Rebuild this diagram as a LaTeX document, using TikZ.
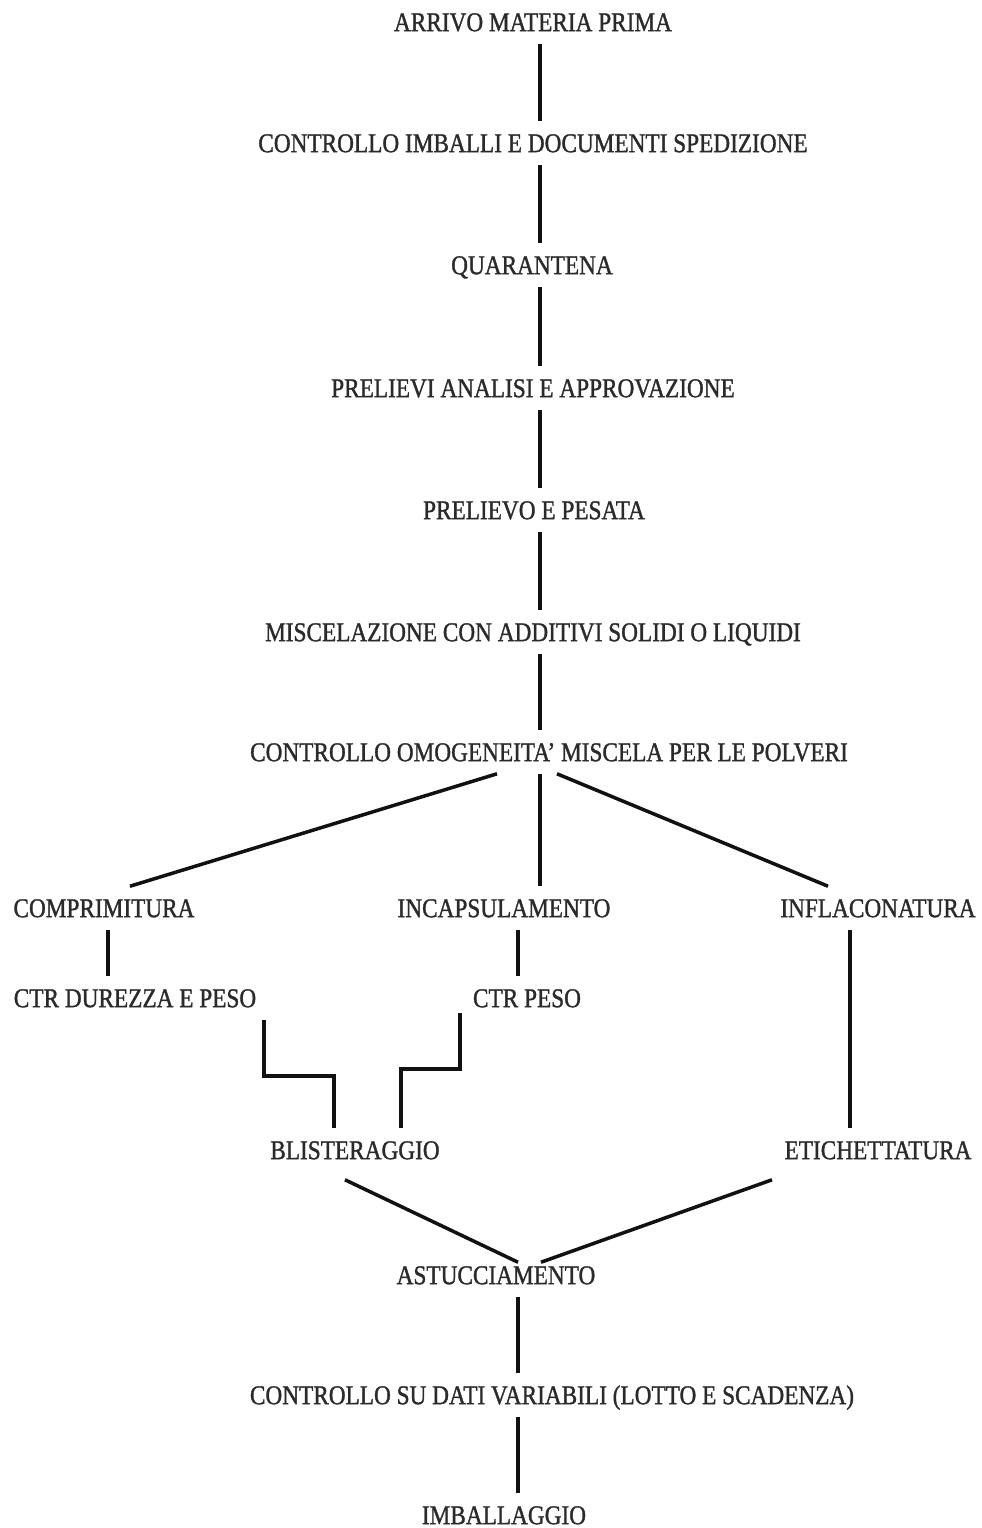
\documentclass[tikz,border=0pt]{standalone}
\usepackage{fontspec}
\setmainfont{Liberation Serif}[FakeStretch=0.86,FakeBold=1.2]
\usetikzlibrary{positioning,calc}
\definecolor{ink}{HTML}{2A2A2A}
\definecolor{wire}{HTML}{111111}

\begin{document}
\begin{tikzpicture}[x=0.02cm,y=-0.02cm,
  stage/.style={text=ink,inner xsep=2pt,inner ysep=7pt,text height=10.4pt,
                text depth=0pt,font=\fontsize{15.4}{18}\selectfont},
  link/.style={draw=wire,line width=2pt}
]
\useasboundingbox (0,0) rectangle (982,1528);

\node[stage] (arr)  at (533,22)   {ARRIVO MATERIA PRIMA};
\node[stage] (imb)  at (533,143)  {CONTROLLO IMBALLI E DOCUMENTI SPEDIZIONE};
\node[stage] (qua)  at (532,265)  {QUARANTENA};
\node[stage] (pre)  at (533,388)  {PRELIEVI ANALISI E APPROVAZIONE};
\node[stage] (pes)  at (534,510)  {PRELIEVO E PESATA};
\node[stage] (mis)  at (533,632)  {MISCELAZIONE CON ADDITIVI SOLIDI O LIQUIDI};
\node[stage] (omo)  at (549,752)  {CONTROLLO OMOGENEITA’ MISCELA PER LE POLVERI};

\node[stage] (com)  at (104,908)  {COMPRIMITURA};
\node[stage] (inc)  at (504,908)  {INCAPSULAMENTO};
\node[stage] (inf)  at (878,908)  {INFLACONATURA};
\node[stage] (dur)  at (135,998)  {CTR DUREZZA E PESO};
\node[stage] (ctr)  at (527,998)  {CTR PESO};
\node[stage] (bli)  at (355,1150) {BLISTERAGGIO};
\node[stage] (eti)  at (878,1150) {ETICHETTATURA};
\node[stage] (ast)  at (496,1275) {ASTUCCIAMENTO};
\node[stage] (dat)  at (552,1395) {CONTROLLO SU DATI VARIABILI (LOTTO E SCADENZA)};
\node[stage] (fin)  at (504,1515) {IMBALLAGGIO};

\draw[link] ($(arr.south)+(7,0)$) -- ($(imb.north)+(7,0)$);
\draw[link] ($(imb.south)+(7,0)$) -- ($(qua.north)+(8,0)$);
\draw[link] ($(qua.south)+(8,0)$) -- ($(pre.north)+(7,0)$);
\draw[link] ($(pre.south)+(7,0)$) -- ($(pes.north)+(6,0)$);
\draw[link] ($(pes.south)+(6,0)$) -- ($(mis.north)+(7,0)$);
\draw[link] ($(mis.south)+(7,0)$) -- ($(omo.north)+(-9,0)$);

\draw[link] ($(omo.south)+(-52,0)$) -- ($(com.north)+(26,0)$);
\draw[link] ($(omo.south)+(-9,0)$)  -- ($(inc.north)+(36,0)$);
\draw[link] ($(omo.south)+(8,0)$)   -- ($(inf.north)+(-50,0)$);

\draw[link] ($(com.south)+(4,0)$)   -- ($(dur.north)+(-27,0)$);
\draw[link] ($(inc.south)+(14,0)$)  -- ($(ctr.north)+(-9,0)$);
\draw[link] ($(inf.south)+(-28,0)$) -- ($(eti.north)+(-28,0)$);

\draw[link] ($(dur.south)+(129,0)$) -- ++(0,56) -| ($(bli.north)+(-21,0)$);
\draw[link] ($(ctr.south)+(-67,-7)$) -- ++(0,56) -| ($(bli.north)+(46,0)$);

\draw[link] ($(bli.south)+(-10,8)$)  -- ($(ast.north)+(22,9)$);
\draw[link] ($(eti.south)+(-106,8)$) -- ($(ast.north)+(45,9)$);

\draw[link] ($(ast.south)+(22,0)$) -- ($(dat.north)+(-34,0)$);
\draw[link] ($(dat.south)+(-34,0)$) -- ($(fin.north)+(14,0)$);
\end{tikzpicture}
\end{document}
